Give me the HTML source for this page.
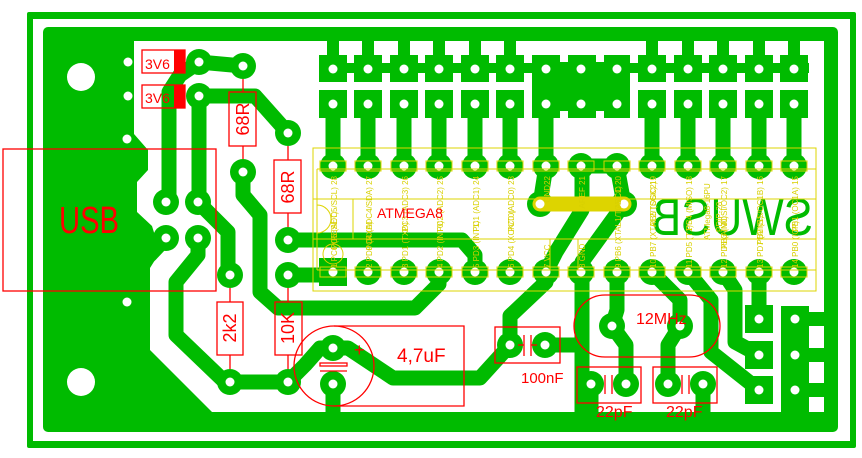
<!DOCTYPE html>
<html><head><meta charset="utf-8"><style>
html,body{margin:0;padding:0;background:#fff;width:862px;height:458px;overflow:hidden}
svg{display:block}
.y{font-family:"Liberation Sans",sans-serif;font-size:8px;fill:#d8d000}
.r{font-family:"Liberation Sans",sans-serif;fill:#f00}
</style></head><body>
<svg width="862" height="458" viewBox="0 0 862 458" xmlns="http://www.w3.org/2000/svg">
<g fill="#00bb00" stroke="none">
<rect x="27" y="12" width="829" height="436" rx="2"/>
</g>
<rect x="33" y="19" width="817" height="422" fill="#fff"/>
<rect x="43" y="27" width="795" height="405" rx="5" fill="#00bb00"/>
<path d="M134,41 H824 V412 H212 L150,350 V268 L160,252 L152,226 L137,212 V182 L148,170 V150 L134,134 Z" fill="#fff"/>
<g fill="#00bb00">
<rect x="319" y="63" width="490" height="10"/>
<rect x="319" y="55" width="28" height="27"/><rect x="354" y="55" width="28" height="27"/><rect x="390" y="55" width="28" height="27"/><rect x="425" y="55" width="28" height="27"/><rect x="461" y="55" width="28" height="27"/><rect x="496" y="55" width="28" height="27"/><rect x="638" y="55" width="28" height="27"/><rect x="674" y="55" width="28" height="27"/><rect x="709" y="55" width="28" height="27"/><rect x="745" y="55" width="28" height="27"/><rect x="780" y="55" width="28" height="27"/>
<rect x="327" y="38" width="12" height="18"/><rect x="362" y="38" width="12" height="18"/><rect x="398" y="38" width="12" height="18"/><rect x="433" y="38" width="12" height="18"/><rect x="469" y="38" width="12" height="18"/><rect x="504" y="38" width="12" height="18"/><rect x="646" y="38" width="12" height="18"/><rect x="682" y="38" width="12" height="18"/><rect x="717" y="38" width="12" height="18"/><rect x="753" y="38" width="12" height="18"/><rect x="788" y="38" width="12" height="18"/>
<rect x="319" y="90" width="28" height="28"/><rect x="354" y="90" width="28" height="28"/><rect x="390" y="90" width="28" height="28"/><rect x="425" y="90" width="28" height="28"/><rect x="461" y="90" width="28" height="28"/><rect x="496" y="90" width="28" height="28"/><rect x="638" y="90" width="28" height="28"/><rect x="674" y="90" width="28" height="28"/><rect x="709" y="90" width="28" height="28"/><rect x="745" y="90" width="28" height="28"/><rect x="780" y="90" width="28" height="28"/>
<rect x="532" y="55" width="98" height="63"/>
<rect x="781" y="306" width="28" height="106"/>
<rect x="808" y="312" width="17" height="14"/><rect x="808" y="348" width="17" height="14"/><rect x="808" y="383" width="17" height="14"/>
<rect x="745" y="305" width="28" height="28"/><rect x="745" y="341" width="28" height="28"/><rect x="745" y="376" width="28" height="28"/>
<rect x="319" y="258" width="28" height="28"/>
</g>
<g fill="#fff"><rect x="560" y="55" width="8" height="7"/><rect x="596" y="55" width="8" height="7"/><rect x="560" y="111" width="8" height="7"/><rect x="596" y="111" width="8" height="7"/></g>
<g fill="none" stroke="#00bb00" stroke-width="15" stroke-linecap="round" stroke-linejoin="round">
<path d="M199,62 L243,66"/>
<path d="M199,62 L180,75 L169,92 L169,200"/>
<path d="M199,96 L255,96 L288,133"/>
<path d="M199,96 V200"/>
<path d="M198,202 L228,232 V275"/>
<path d="M243,172 V195 L260,215 V292 L278,308 H415 L439,284 V272"/>
<path d="M198,238 V255 L176,282 V335 L225,382 H288"/>
<path d="M166,238 L150,255"/>
<path d="M288,240 H462 L475,255 V272"/>
<path d="M288,275 H333"/>
<path d="M288,382 L305,365 L320,348 H348 L393,378 H480 L510,345"/>
<path d="M510,345 V316 L546,282 V272"/>
<path d="M546,272 L556,252 L582,210 V166 H617"/>
<path d="M617,166 L624,204 L582,262 V412"/>
<path d="M545,345 H582"/>
<path d="M540,204 L546,166"/>
<path d="M617,272 V310 L612,326 L626,345 V384"/>
<path d="M652,272 L680,300 V326 L668,345 V384"/>
<path d="M591,384 V412 M703,384 V412 M333,384 V412"/>
<path d="M688,272 L711,300 V352 L759,390"/>
<path d="M723,272 L735,290 V342 L759,355"/>
<path d="M759,272 V319"/>
<path d="M333,104 V166 M368,104 V166 M404,104 V166 M439,104 V166 M475,104 V166 M510,104 V166 M546,104 V166 M652,104 V166 M688,104 V166 M723,104 V166 M759,104 V166 M794,104 V166"/>
</g>
<g fill="#00bb00">
<circle cx="199" cy="62" r="13"/><circle cx="243" cy="66" r="13"/><circle cx="199" cy="96" r="13"/><circle cx="288" cy="133" r="13"/><circle cx="243" cy="172" r="13"/>
<circle cx="166" cy="202" r="13"/><circle cx="198" cy="202" r="13"/><circle cx="166" cy="238" r="13"/><circle cx="198" cy="238" r="13"/>
<circle cx="288" cy="240" r="13"/><circle cx="230" cy="275" r="13"/><circle cx="288" cy="275" r="13"/><circle cx="230" cy="382" r="13"/><circle cx="288" cy="382" r="13"/>
<circle cx="333" cy="348" r="13"/><circle cx="333" cy="384" r="13"/><circle cx="510" cy="345" r="13"/><circle cx="545" cy="345" r="13"/>
<circle cx="612" cy="326" r="13"/><circle cx="680" cy="326" r="13"/><circle cx="591" cy="384" r="13"/><circle cx="626" cy="384" r="13"/><circle cx="668" cy="384" r="13"/><circle cx="703" cy="384" r="13"/>
<circle cx="540" cy="204" r="13"/><circle cx="624" cy="204" r="13"/>
<circle cx="333" cy="166" r="13"/><circle cx="368" cy="166" r="13"/><circle cx="404" cy="166" r="13"/><circle cx="439" cy="166" r="13"/><circle cx="475" cy="166" r="13"/><circle cx="510" cy="166" r="13"/><circle cx="546" cy="166" r="13"/><circle cx="581" cy="166" r="13"/><circle cx="617" cy="166" r="13"/><circle cx="652" cy="166" r="13"/><circle cx="688" cy="166" r="13"/><circle cx="723" cy="166" r="13"/><circle cx="759" cy="166" r="13"/><circle cx="794" cy="166" r="13"/>
<circle cx="368" cy="272" r="13"/><circle cx="404" cy="272" r="13"/><circle cx="439" cy="272" r="13"/><circle cx="475" cy="272" r="13"/><circle cx="510" cy="272" r="13"/><circle cx="546" cy="272" r="13"/><circle cx="581" cy="272" r="13"/><circle cx="617" cy="272" r="13"/><circle cx="652" cy="272" r="13"/><circle cx="688" cy="272" r="13"/><circle cx="723" cy="272" r="13"/><circle cx="759" cy="272" r="13"/><circle cx="794" cy="272" r="13"/>
</g>
<text transform="translate(813,235) scale(-1,1)" x="0" y="0" textLength="161" lengthAdjust="spacingAndGlyphs" font-family="Liberation Sans, sans-serif" font-size="52" fill="#00bb00">SWUSB</text>
<line x1="540" y1="204" x2="624" y2="204" stroke="#ddd400" stroke-width="15" stroke-linecap="round"/>
<g fill="#fff">
<circle cx="81" cy="77" r="14"/><circle cx="81" cy="382" r="14"/>
<circle cx="128" cy="62" r="4.5"/><circle cx="128" cy="96" r="4.5"/><circle cx="127" cy="139" r="4.5"/><circle cx="127" cy="302" r="4.5"/>
<circle cx="199" cy="62" r="4.5"/><circle cx="243" cy="66" r="4.5"/><circle cx="199" cy="96" r="4.5"/><circle cx="288" cy="133" r="4.5"/><circle cx="243" cy="172" r="4.5"/>
<circle cx="166" cy="202" r="4.5"/><circle cx="198" cy="202" r="4.5"/><circle cx="166" cy="238" r="4.5"/><circle cx="198" cy="238" r="4.5"/>
<circle cx="288" cy="240" r="4.5"/><circle cx="230" cy="275" r="4.5"/><circle cx="288" cy="275" r="4.5"/><circle cx="230" cy="382" r="4.5"/><circle cx="288" cy="382" r="4.5"/>
<circle cx="333" cy="348" r="4.5"/><circle cx="333" cy="384" r="4.5"/><circle cx="510" cy="345" r="4.5"/><circle cx="545" cy="345" r="4.5"/>
<circle cx="612" cy="326" r="4.5"/><circle cx="680" cy="326" r="4.5"/><circle cx="591" cy="384" r="4.5"/><circle cx="626" cy="384" r="4.5"/><circle cx="668" cy="384" r="4.5"/><circle cx="703" cy="384" r="4.5"/>
<circle cx="540" cy="204" r="4.5"/><circle cx="624" cy="204" r="4.5"/>
<circle cx="759" cy="319" r="4.5"/><circle cx="759" cy="355" r="4.5"/><circle cx="759" cy="390" r="4.5"/><circle cx="795" cy="319" r="4.5"/><circle cx="795" cy="355" r="4.5"/><circle cx="795" cy="390" r="4.5"/>
<circle cx="333" cy="69" r="4.5"/><circle cx="368" cy="69" r="4.5"/><circle cx="404" cy="69" r="4.5"/><circle cx="439" cy="69" r="4.5"/><circle cx="475" cy="69" r="4.5"/><circle cx="510" cy="69" r="4.5"/><circle cx="546" cy="69" r="4.5"/><circle cx="581" cy="69" r="4.5"/><circle cx="617" cy="69" r="4.5"/><circle cx="652" cy="69" r="4.5"/><circle cx="688" cy="69" r="4.5"/><circle cx="723" cy="69" r="4.5"/><circle cx="759" cy="69" r="4.5"/><circle cx="794" cy="69" r="4.5"/>
<circle cx="333" cy="104" r="4.5"/><circle cx="368" cy="104" r="4.5"/><circle cx="404" cy="104" r="4.5"/><circle cx="439" cy="104" r="4.5"/><circle cx="475" cy="104" r="4.5"/><circle cx="510" cy="104" r="4.5"/><circle cx="546" cy="104" r="4.5"/><circle cx="581" cy="104" r="4.5"/><circle cx="617" cy="104" r="4.5"/><circle cx="652" cy="104" r="4.5"/><circle cx="688" cy="104" r="4.5"/><circle cx="723" cy="104" r="4.5"/><circle cx="759" cy="104" r="4.5"/><circle cx="794" cy="104" r="4.5"/>
<circle cx="333" cy="166" r="4.5"/><circle cx="368" cy="166" r="4.5"/><circle cx="404" cy="166" r="4.5"/><circle cx="439" cy="166" r="4.5"/><circle cx="475" cy="166" r="4.5"/><circle cx="510" cy="166" r="4.5"/><circle cx="546" cy="166" r="4.5"/><circle cx="581" cy="166" r="4.5"/><circle cx="617" cy="166" r="4.5"/><circle cx="652" cy="166" r="4.5"/><circle cx="688" cy="166" r="4.5"/><circle cx="723" cy="166" r="4.5"/><circle cx="759" cy="166" r="4.5"/><circle cx="794" cy="166" r="4.5"/>
<circle cx="333" cy="272" r="4.5"/><circle cx="368" cy="272" r="4.5"/><circle cx="404" cy="272" r="4.5"/><circle cx="439" cy="272" r="4.5"/><circle cx="475" cy="272" r="4.5"/><circle cx="510" cy="272" r="4.5"/><circle cx="546" cy="272" r="4.5"/><circle cx="581" cy="272" r="4.5"/><circle cx="617" cy="272" r="4.5"/><circle cx="652" cy="272" r="4.5"/><circle cx="688" cy="272" r="4.5"/><circle cx="723" cy="272" r="4.5"/><circle cx="759" cy="272" r="4.5"/><circle cx="794" cy="272" r="4.5"/>
</g>
<g fill="none" stroke="#ddd400" stroke-width="1">
<rect x="313" y="148" width="503" height="143"/>
<line x1="317" y1="169" x2="816" y2="169"/><line x1="317" y1="270" x2="816" y2="270"/>
<line x1="313" y1="199" x2="816" y2="199"/><line x1="313" y1="239" x2="816" y2="239"/>
<line x1="317" y1="169" x2="317" y2="270"/><line x1="353" y1="199" x2="353" y2="239"/>
<line x1="550" y1="239" x2="550" y2="270"/><line x1="578" y1="239" x2="578" y2="270"/>
<path d="M317,205 A14,14 0 0 1 317,233"/>
<circle cx="333" cy="254" r="10"/>
<rect x="320" y="161" width="26" height="10"/><rect x="355" y="161" width="26" height="10"/><rect x="391" y="161" width="26" height="10"/><rect x="426" y="161" width="26" height="10"/><rect x="462" y="161" width="26" height="10"/><rect x="497" y="161" width="26" height="10"/><rect x="533" y="161" width="26" height="10"/><rect x="568" y="161" width="26" height="10"/><rect x="604" y="161" width="26" height="10"/><rect x="639" y="161" width="26" height="10"/><rect x="675" y="161" width="26" height="10"/><rect x="710" y="161" width="26" height="10"/><rect x="746" y="161" width="26" height="10"/><rect x="781" y="161" width="26" height="10"/>
<rect x="320" y="267" width="26" height="10"/><rect x="355" y="267" width="26" height="10"/><rect x="391" y="267" width="26" height="10"/><rect x="426" y="267" width="26" height="10"/><rect x="462" y="267" width="26" height="10"/><rect x="497" y="267" width="26" height="10"/><rect x="533" y="267" width="26" height="10"/><rect x="568" y="267" width="26" height="10"/><rect x="604" y="267" width="26" height="10"/><rect x="639" y="267" width="26" height="10"/><rect x="675" y="267" width="26" height="10"/><rect x="710" y="267" width="26" height="10"/><rect x="746" y="267" width="26" height="10"/><rect x="781" y="267" width="26" height="10"/>
</g>
<g class="y" text-anchor="end">
<text transform="translate(337,176) rotate(-90)">PC5 (ADC5/SCL) 28</text>
<text transform="translate(372,176) rotate(-90)">PC4 (ADC4/SDA) 27</text>
<text transform="translate(408,176) rotate(-90)">PC3 (ADC3) 26</text>
<text transform="translate(443,176) rotate(-90)">PC2 (ADC2) 25</text>
<text transform="translate(479,176) rotate(-90)">PC1 (ADC1) 24</text>
<text transform="translate(514,176) rotate(-90)">PC0 (ADC0) 23</text>
<text transform="translate(550,176) rotate(-90)">GND22</text>
<text transform="translate(585,176) rotate(-90)">AREF 21</text>
<text transform="translate(621,176) rotate(-90)">AVCC 20</text>
<text transform="translate(656,176) rotate(-90)">PB5 (SCK) 19</text>
<text transform="translate(692,176) rotate(-90)">PB4 (MISO) 18</text>
<text transform="translate(727,176) rotate(-90)">PB3 (MOSI/OC2) 17</text>
<text transform="translate(763,176) rotate(-90)">PB2 (SS/OC1B) 16</text>
<text transform="translate(798,176) rotate(-90)">PB1 (OC1A) 15</text>
</g>
<g class="y">
<text transform="translate(337,268) rotate(-90)">1 PC6 (RESET)</text>
<text transform="translate(372,268) rotate(-90)">2 PD0 (RXD)</text>
<text transform="translate(408,268) rotate(-90)">3 PD1 (TXD)</text>
<text transform="translate(443,268) rotate(-90)">4 PD2 (INT0)</text>
<text transform="translate(479,268) rotate(-90)">5 PD3 (INT1)</text>
<text transform="translate(514,268) rotate(-90)">6 PD4 (XCK/T0)</text>
<text transform="translate(550,268) rotate(-90)">7 VCC</text>
<text transform="translate(585,268) rotate(-90)">8 GND</text>
<text transform="translate(621,268) rotate(-90)">9 PB6 (XTAL1/TOSC1)</text>
<text transform="translate(656,268) rotate(-90)">10 PB7 (XTAL2/TOSC2)</text>
<text transform="translate(692,268) rotate(-90)">11 PD5 (T1)</text>
<text transform="translate(727,268) rotate(-90)">12 PD6 (AIN0)</text>
<text transform="translate(763,268) rotate(-90)">13 PD7 (AIN1)</text>
<text transform="translate(798,268) rotate(-90)">14 PB0 (ICP)</text>
<text transform="translate(710,240) rotate(-90)">ATMega8-16PU</text>
<text transform="translate(722,232) rotate(-90)">PDIP-28</text>
</g>
<g fill="none" stroke="#f00" stroke-width="1.3">
<rect x="3" y="149" width="213" height="142"/>
<rect x="142" y="50" width="43" height="23"/><rect x="142" y="85" width="43" height="23"/>
<rect x="229" y="92" width="27" height="54"/><line x1="243" y1="79" x2="243" y2="92"/><line x1="243" y1="146" x2="243" y2="159"/>
<rect x="274" y="160" width="27" height="53"/><line x1="288" y1="146" x2="288" y2="160"/><line x1="288" y1="213" x2="288" y2="227"/>
<rect x="217" y="302" width="26" height="53"/><line x1="230" y1="288" x2="230" y2="302"/><line x1="230" y1="355" x2="230" y2="369"/>
<rect x="275" y="302" width="27" height="53"/><line x1="288" y1="288" x2="288" y2="302"/><line x1="288" y1="355" x2="288" y2="369"/>
<circle cx="334" cy="366" r="40"/>
<path d="M334,326 H464 V406 H334"/>
<rect x="320" y="363" width="27" height="3"/><line x1="320" y1="371" x2="347" y2="371"/>
<rect x="495" y="327" width="65" height="36"/><line x1="524" y1="335" x2="524" y2="356"/><line x1="531" y1="335" x2="531" y2="356"/><line x1="518" y1="345" x2="524" y2="345"/><line x1="531" y1="345" x2="537" y2="345"/>
<rect x="574" y="295" width="146" height="62" rx="31"/>
<rect x="577" y="367" width="64" height="36"/><line x1="605" y1="375" x2="605" y2="394"/><line x1="612" y1="375" x2="612" y2="394"/>
<rect x="653" y="367" width="64" height="36"/><line x1="682" y1="375" x2="682" y2="394"/><line x1="689" y1="375" x2="689" y2="394"/>
</g>
<rect x="174" y="50" width="11" height="23" fill="#f00"/><rect x="174" y="85" width="11" height="23" fill="#f00"/>
<g class="r">
<text x="59" y="233" font-size="38" textLength="60" lengthAdjust="spacingAndGlyphs">USB</text>
<text x="145" y="69" font-size="14">3V6</text>
<text x="145" y="103" font-size="14">3V6</text>
<text transform="translate(249,119) rotate(-90)" font-size="18" text-anchor="middle">68R</text>
<text transform="translate(294,187) rotate(-90)" font-size="18" text-anchor="middle">68R</text>
<text transform="translate(236,328) rotate(-90)" font-size="18" text-anchor="middle">2k2</text>
<text transform="translate(294,328) rotate(-90)" font-size="18" text-anchor="middle">10K</text>
<text x="377" y="218" font-size="14">ATMEGA8</text>
<text x="397" y="362" font-size="19">4,7uF</text>
<text x="354" y="356" font-size="18">+</text>
<text x="521" y="383" font-size="15">100nF</text>
<text x="636" y="324" font-size="16">12MHz</text>
<text x="596" y="417" font-size="16">22pF</text>
<text x="666" y="417" font-size="16">22pF</text>
</g>
</svg>
</body></html>
